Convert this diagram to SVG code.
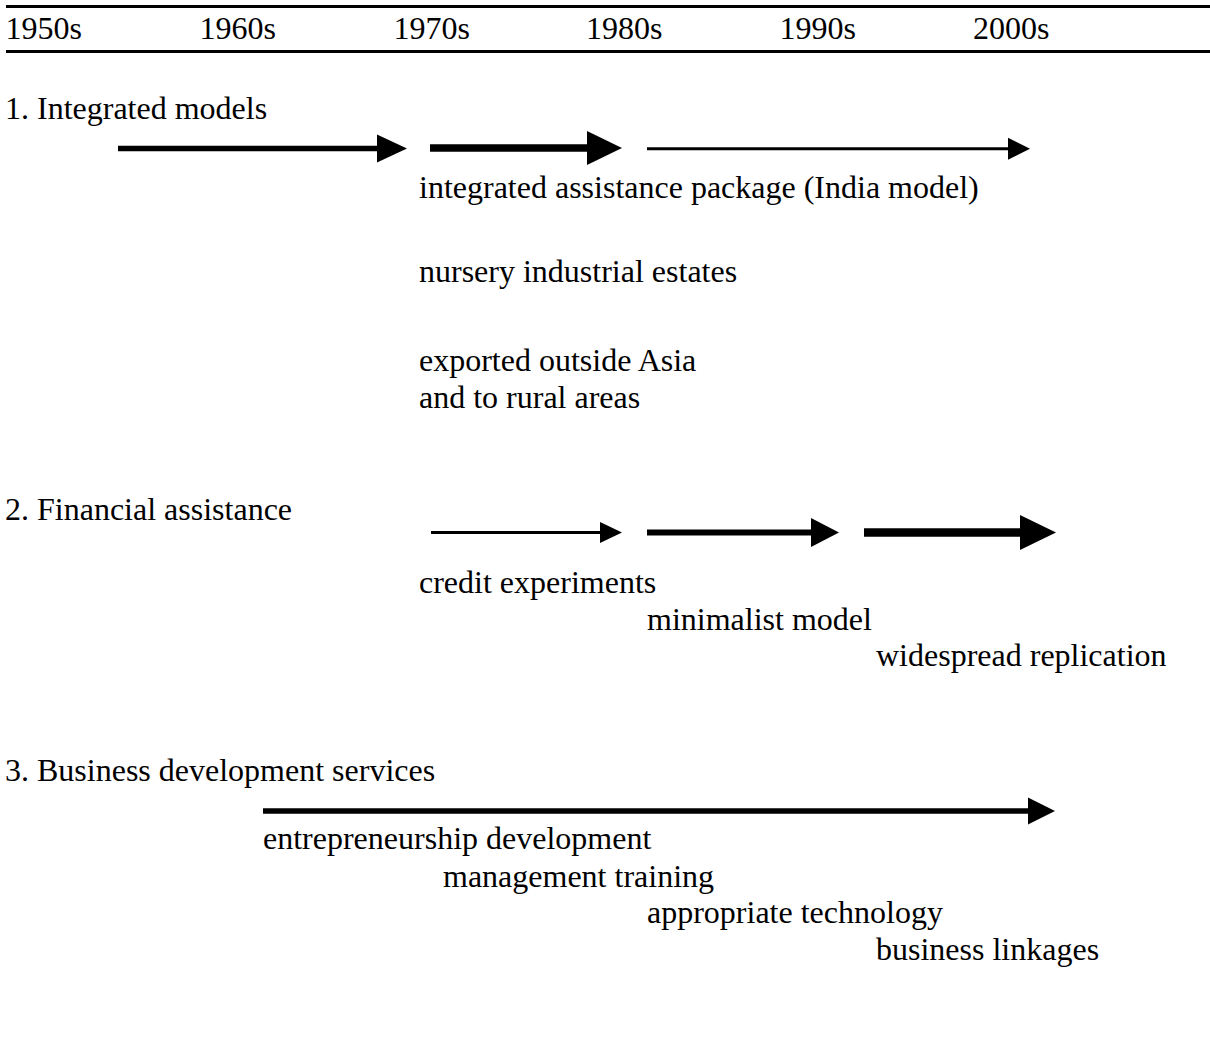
<svg xmlns="http://www.w3.org/2000/svg" width="1210" height="1041" viewBox="0 0 1210 1041">
<style>
  .t { font-family: "Liberation Serif", "Times New Roman", serif; font-size: 32px; fill: #000; }
  .rule { stroke: #000; stroke-width: 3; }
  .shaft { stroke: #000; fill: none; }
  .head { fill: #000; stroke: none; }
</style>
<rect width="1210" height="1041" fill="#fff"/>
<g id="timeline-axis">
  <line class="rule" x1="6" y1="6.5" x2="1210" y2="6.5"/>
  <line class="rule" x1="6" y1="51.5" x2="1210" y2="51.5"/>
  <text class="t" x="5.5" y="39">1950s</text>
  <text class="t" x="199.5" y="39">1960s</text>
  <text class="t" x="393.5" y="39">1970s</text>
  <text class="t" x="586" y="39">1980s</text>
  <text class="t" x="779.5" y="39">1990s</text>
  <text class="t" x="973" y="39">2000s</text>
</g>
<g id="section-1-integrated-models">
  <text class="t" x="5" y="119">1. Integrated models</text>
  <text class="t" x="419" y="198">integrated assistance package (India model)</text>
  <text class="t" x="419" y="282">nursery industrial estates</text>
  <text class="t" x="419" y="371">exported outside Asia</text>
  <text class="t" x="419" y="408">and to rural areas</text>
</g>
<g id="section-2-financial-assistance">
  <text class="t" x="5" y="520">2. Financial assistance</text>
  <text class="t" x="419" y="593">credit experiments</text>
  <text class="t" x="647" y="630">minimalist model</text>
  <text class="t" x="876" y="666">widespread replication</text>
</g>
<g id="section-3-business-development-services">
  <text class="t" x="5" y="781">3. Business development services</text>
  <text class="t" x="263" y="849">entrepreneurship development</text>
  <text class="t" x="443" y="887">management training</text>
  <text class="t" x="647" y="923">appropriate technology</text>
  <text class="t" x="876" y="960">business linkages</text>
</g>
<g id="connectors">
  <!-- row 1 -->
  <line class="shaft" x1="118" y1="148.5" x2="380" y2="148.5" stroke-width="5.3"/>
  <polygon class="head" points="377,134.5 407,148.5 377,162.5"/>
  <line class="shaft" x1="430" y1="148" x2="590" y2="148" stroke-width="7.5"/>
  <polygon class="head" points="587,131 622,148 587,165"/>
  <line class="shaft" x1="647" y1="148.7" x2="1010" y2="148.7" stroke-width="3"/>
  <polygon class="head" points="1008,137.7 1030,148.7 1008,159.7"/>
  <!-- row 2 -->
  <line class="shaft" x1="431" y1="532.5" x2="602" y2="532.5" stroke-width="3"/>
  <polygon class="head" points="600,522 622,532.5 600,543"/>
  <line class="shaft" x1="647" y1="532.5" x2="813" y2="532.5" stroke-width="6"/>
  <polygon class="head" points="811,518 839,532.5 811,547"/>
  <line class="shaft" x1="864" y1="532.5" x2="1022" y2="532.5" stroke-width="8.5"/>
  <polygon class="head" points="1020,515 1056,532.5 1020,550"/>
  <!-- row 3 -->
  <line class="shaft" x1="263" y1="811" x2="1030" y2="811" stroke-width="5.5"/>
  <polygon class="head" points="1028,797.5 1055,811 1028,824.5"/>
</g>
</svg>
